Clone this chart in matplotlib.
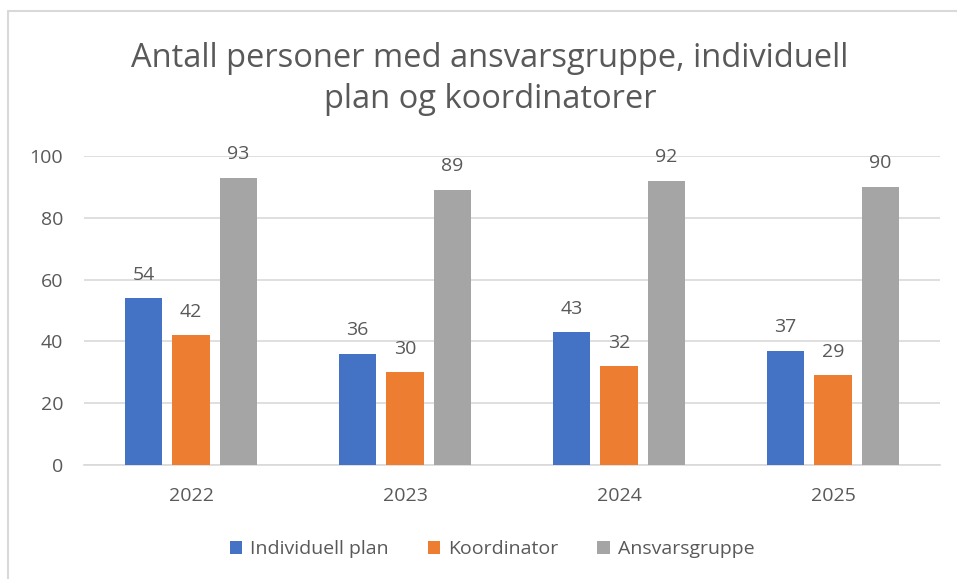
import numpy as np
import matplotlib.pyplot as plt
from matplotlib.patches import Rectangle

plt.rcParams['font.family'] = ['Open Sans', 'DejaVu Sans']

years = ["2022", "2023", "2024", "2025"]
individuell_plan = [54, 36, 43, 37]
koordinator = [42, 30, 32, 29]
ansvarsgruppe = [93, 89, 92, 90]

series = [
    ("Individuell plan", individuell_plan, "#4472c4"),
    ("Koordinator", koordinator, "#ed7d31"),
    ("Ansvarsgruppe", ansvarsgruppe, "#a5a5a5"),
]

text_col = "#595959"
grid_col = "#d9d9d9"

fig = plt.figure(figsize=(9.57, 5.79), dpi=100)
ax = fig.add_axes([84 / 957, 1 - 465 / 579, (940 - 84) / 957, (465 - 156) / 579])

# chart frame
fig.patches.append(Rectangle((8 / 957, -0.05), 1.1, 1 - 11 / 579 + 0.05,
                             transform=fig.transFigure, fill=False,
                             edgecolor="#d9d9d9", linewidth=1.5))

x = np.arange(len(years))
width = 0.173
step = 0.222

for i, (name, vals, col) in enumerate(series):
    pos = x + (i - 1) * step
    bars = ax.bar(pos, vals, width, color=col, label=name, zorder=3)
    for b, v in zip(bars, vals):
        ax.annotate(str(v), (b.get_x() + b.get_width() / 2, v),
                    xytext=(0, 17), textcoords="offset points",
                    ha="center", va="center", fontsize=14, color=text_col)

ax.set_xlim(-0.5, 3.5)
ax.set_ylim(0, 100)
ax.set_yticks(range(0, 101, 20))
ax.set_xticks(x)
ax.set_xticklabels(years)
ax.yaxis.grid(True, color=grid_col, linewidth=1.2, zorder=0)
for s in ["top", "right", "left"]:
    ax.spines[s].set_visible(False)
ax.spines["bottom"].set_color(grid_col)
ax.spines["bottom"].set_linewidth(1.2)
ax.tick_params(axis="both", length=0, labelsize=14, colors=text_col)
ax.tick_params(axis="x", pad=16)
ax.tick_params(axis="y", pad=15)

fig.text(490 / 957, 1 - 79 / 579,
         "Antall personer med ansvarsgruppe, individuell\nplan og koordinatorer",
         ha="center", va="center", fontsize=23.5, color=text_col, linespacing=1.3)

fig.legend(loc="center", bbox_to_anchor=(492 / 957, 1 - 549 / 579), ncol=3,
           frameon=False, fontsize=14, labelcolor=text_col,
           handlelength=0.65, handleheight=0.65, handletextpad=0.4, columnspacing=2.0)

fig.savefig("out.png", dpi=100)
